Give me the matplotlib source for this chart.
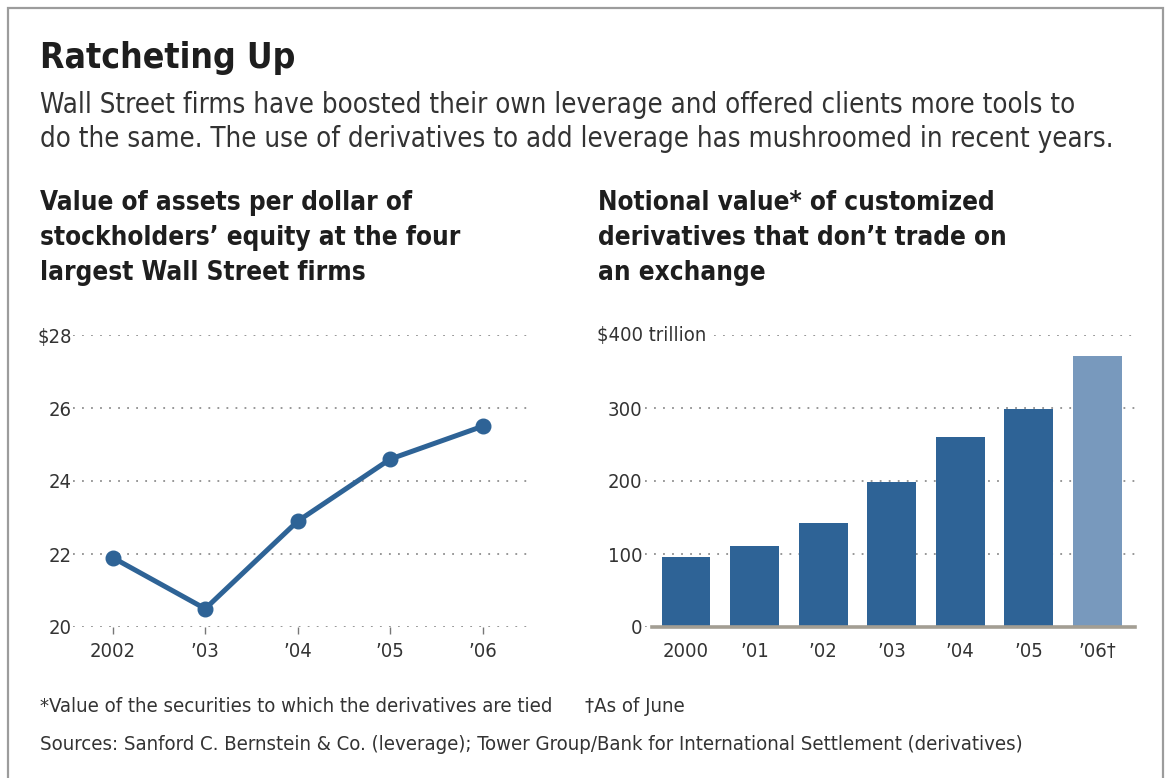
import matplotlib
matplotlib.use("Agg")
import matplotlib.pyplot as plt
from matplotlib.patches import Rectangle

# --- data ---
lev_years = [2002, 2003, 2004, 2005, 2006]
lev_labels = ['2002', '’03', '’04', '’05', '’06']
lev_values = [21.9, 20.5, 22.9, 24.6, 25.5]
lev_ticks = [20, 22, 24, 26, 28]
lev_ticklabels = ['20', '22', '24', '26', '$28']

deriv_labels = ['2000', '’01', '’02', '’03', '’04', '’05', '’06†']
deriv_values = [96, 111, 143, 198, 260, 298, 371]
deriv_ticks = [0, 100, 200, 300]

title = 'Ratcheting Up'
subtitle = ['Wall Street firms have boosted their own leverage and offered clients more tools to',
            'do the same. The use of derivatives to add leverage has mushroomed in recent years.']
left_title = ['Value of assets per dollar of',
              'stockholders’ equity at the four',
              'largest Wall Street firms']
right_title = ['Notional value* of customized',
               'derivatives that don’t trade on',
               'an exchange']
note1 = '*Value of the securities to which the derivatives are tied'
note2 = '†As of June'
sources = ('Sources: Sanford C. Bernstein & Co. (leverage); '
           'Tower Group/Bank for International Settlement (derivatives)')

plt.rcParams['font.family'] = ['DejaVu Sans']
plt.rcParams['font.stretch'] = 'condensed'

W, H = 1169, 778
fig = plt.figure(figsize=(W / 100, H / 100), dpi=100)


def fx(x):
    return x / W


def fy(y):
    return 1 - y / H


BLUE = '#2e6396'
LIGHT = '#7899bd'
TXT = '#1e1e1e'
SUB = '#333333'
GRID = '#8f8f8f'
DOTS = (0, (1, 4))
TICK_FS = 14.5

# outer frame
fig.patches.append(Rectangle((fx(8), fy(800)), fx(1163) - fx(8), fy(8) - fy(800),
                             transform=fig.transFigure, fill=False,
                             ec='#9c9c9c', lw=1.6))

# headings
fig.text(fx(40), fy(68), title, fontsize=25.5, fontweight='bold', color=TXT, va='baseline')
for i, line in enumerate(subtitle):
    fig.text(fx(40), fy(113 + 34 * i), line, fontsize=19.8, color=SUB, va='baseline')
for i, line in enumerate(left_title):
    fig.text(fx(40), fy(210 + 35 * i), line, fontsize=18.7, fontweight='bold', color=TXT, va='baseline')
for i, line in enumerate(right_title):
    fig.text(fx(598), fy(210 + 35 * i), line, fontsize=18.7, fontweight='bold', color=TXT, va='baseline')

# left: leverage line chart
ax1 = fig.add_axes([fx(73), fy(627), fx(528) - fx(73), fy(335) - fy(627)])
ax1.plot(lev_years, lev_values, color=BLUE, lw=3.6, marker='o', ms=10.5,
         solid_joinstyle='round', zorder=3, clip_on=False)
ax1.set_xlim(2001.57, 2006.49)
ax1.set_ylim(20, 28)
ax1.set_yticks(lev_ticks)
ax1.set_yticklabels(lev_ticklabels)
ax1.set_xticks(lev_years)
ax1.set_xticklabels(lev_labels)
ax1.grid(axis='y', ls=DOTS, color=GRID, lw=1.3)
ax1.tick_params(axis='y', length=0, pad=1, labelsize=TICK_FS, labelcolor=SUB)
ax1.tick_params(axis='x', length=5, width=1, color='#777777', pad=6,
                labelsize=TICK_FS, labelcolor=SUB)
for s in ax1.spines.values():
    s.set_visible(False)

# right: derivatives bar chart
ax2 = fig.add_axes([fx(645), fy(627), fx(1135) - fx(645), fy(335) - fy(627)])
xpos = list(range(len(deriv_values)))
bar_colors = [BLUE] * (len(deriv_values) - 1) + [LIGHT]
ax2.bar(xpos, deriv_values, width=0.71, color=bar_colors, zorder=2)
ax2.set_xlim(-0.6, 6.55)
ax2.set_ylim(0, 400)
ax2.set_yticks(deriv_ticks)
ax2.set_xticks(xpos)
ax2.set_xticklabels(deriv_labels)
ax2.set_axisbelow(True)
ax2.grid(axis='y', ls=DOTS, color=GRID, lw=1.3)
ax2.axhline(400, xmin=(714 - 645) / 490, ls=DOTS, color=GRID, lw=1.3)
ax2.plot([-0.5, 6.55], [0, 0], color='#a39e93', lw=2.6, zorder=3, clip_on=False)
ax2.tick_params(axis='y', length=0, pad=2, labelsize=TICK_FS, labelcolor=SUB)
ax2.tick_params(axis='x', length=0, pad=11, labelsize=TICK_FS, labelcolor=SUB)
for s in ax2.spines.values():
    s.set_visible(False)
fig.text(fx(597), fy(335), '$400 trillion', fontsize=TICK_FS, color=SUB, va='center')

# footnotes
fig.text(fx(40), fy(712), note1, fontsize=14.6, color=SUB, va='baseline')
fig.text(fx(585), fy(712), note2, fontsize=14.6, color=SUB, va='baseline')
fig.text(fx(40), fy(750), sources, fontsize=14.6, color=SUB, va='baseline')

fig.savefig('out.png', dpi=100)
